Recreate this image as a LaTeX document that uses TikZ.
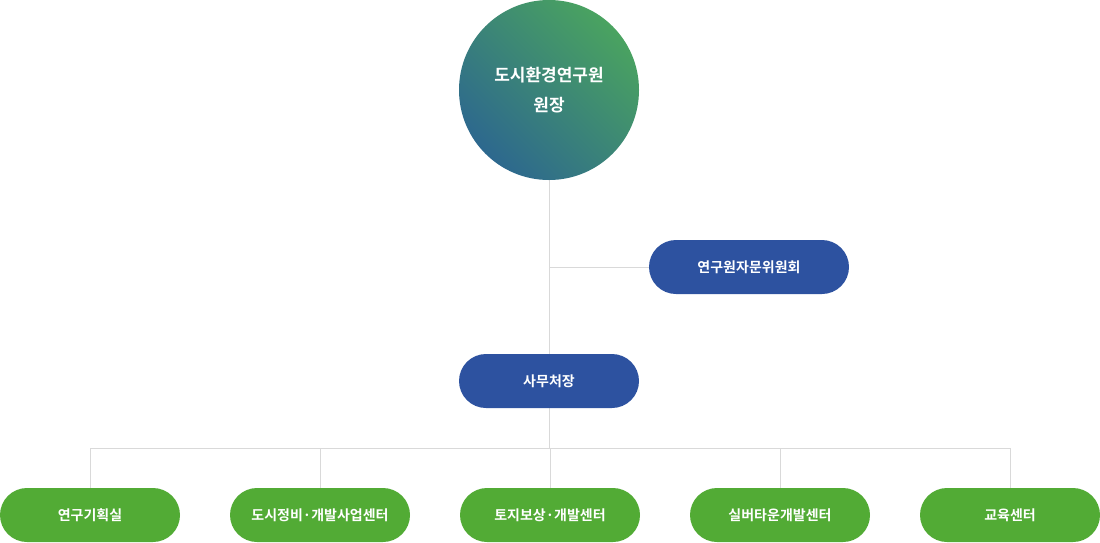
\documentclass[tikz,border=0pt]{standalone}
\usepackage{fontspec}
\newfontfamily\krfont{Noto Sans CJK KR}[BoldFont={Noto Sans CJK KR Bold}]
\usetikzlibrary{positioning,backgrounds}
\definecolor{BlueBox}{RGB}{45,82,160}
\definecolor{GreenBox}{RGB}{82,171,53}
\definecolor{LineGray}{RGB}{217,217,217}
\definecolor{HeadGreen}{RGB}{74,163,96}
\definecolor{HeadBlue}{RGB}{45,104,142}
\tikzset{
  unit/.style={rounded corners=27pt,minimum width=180pt,minimum height=54pt,inner sep=0pt,text=white,font=\krfont\fontsize{14}{16}\selectfont\bfseries},
  bluebox/.style={unit,fill=BlueBox},
  greenbox/.style={unit,fill=GreenBox},
  link/.style={draw=LineGray,line width=0.8pt}
}
\begin{document}
\begin{tikzpicture}[x=1pt,y=1pt,yscale=-1]
\useasboundingbox (0,0) rectangle (1100,542);

% head
\node (head) [circle,minimum size=180pt,inner sep=0pt,text=white,align=center,
  left color=HeadGreen,right color=HeadBlue,shading angle=-45,
  font=\krfont\fontsize{17}{30}\selectfont\bfseries] at (549,90) {도시환경연구원\\원장};

% units
\node (advisory) [bluebox,minimum width=200pt] at (749,267) {연구원자문위원회};
\node (office) [bluebox] at (549,381) {사무처장};
\node (plan) [greenbox] at (90,515) {연구기획실};
\node (renew) [greenbox] at (320,515) {도시정비·개발사업센터};
\node (land) [greenbox] at (550,515) {토지보상·개발센터};
\node (silver) [greenbox] at (780,515) {실버타운개발센터};
\node (edu) [greenbox] at (1010,515) {교육센터};

% links
\coordinate (bus) at (549,448);
\begin{scope}[on background layer]
\draw[link] (head.south) -- (office.north);
\draw[link] (advisory.west) -- (advisory.west -| head.south);
\draw[link] (office.south) -- (bus);
\draw[link] (bus -| plan.north) -- (bus -| edu.north);
\foreach \u in {plan,renew,land,silver,edu}
  \draw[link] (bus -| \u.north) -- (\u.north);
\end{scope}
\end{tikzpicture}
\end{document}
